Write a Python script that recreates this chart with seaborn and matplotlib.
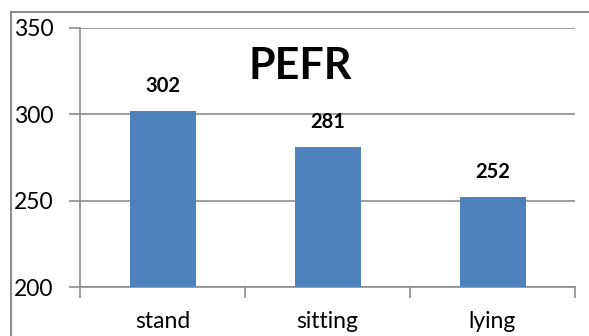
import matplotlib
matplotlib.use("Agg")
import matplotlib.pyplot as plt
import seaborn as sns
import pandas as pd
from matplotlib.patches import Rectangle

# dados
positions = ["stand", "sitting", "lying"]
pefr = [302, 281, 252]
y_ticks = [200, 250, 300, 350]

BAR_COLOR = "#4F81BD"
GRID_COLOR = "#8C8C8C"

sns.set_theme(style="white")
plt.rcParams['font.family'] = ['Lato', 'DejaVu Sans']
plt.rcParams['text.color'] = 'black'
plt.rcParams['xtick.labelcolor'] = 'black'
plt.rcParams['ytick.labelcolor'] = 'black'

df = pd.DataFrame({"position": positions, "PEFR": pefr})

fig = plt.figure(figsize=(5.89, 3.36), dpi=100)
ax = fig.add_axes([80 / 589, 1 - 287 / 336, (575 - 80) / 589, (287 - 28) / 336])

sns.barplot(data=df, x="position", y="PEFR", color=BAR_COLOR, width=0.4,
            saturation=1, linewidth=0, ax=ax, zorder=3)

ax.set_ylim(200, 350)
ax.set_xlim(-0.5, len(positions) - 0.5)
ax.set_yticks(y_ticks)
ax.set_yticklabels([str(v) for v in y_ticks], fontsize=16.5)

# ticks de categoria nas fronteiras, rótulos no centro
ax.set_xticks([i - 0.5 for i in range(len(positions) + 1)])
ax.set_xticklabels([])
ax.set_xticks(range(len(positions)), minor=True)
ax.set_xticklabels(positions, minor=True, fontsize=16.5)
ax.tick_params(axis="x", which="major", direction="out", length=8, width=1.2,
               color=GRID_COLOR, bottom=True)
ax.tick_params(axis="x", which="minor", length=0, pad=17)
ax.tick_params(axis="y", direction="out", length=8, width=1.2, color=GRID_COLOR,
               left=True, pad=11)

ax.yaxis.grid(True, color=GRID_COLOR, linewidth=1.2, zorder=0)
ax.set_axisbelow(True)
for side in ["top", "right"]:
    ax.spines[side].set_visible(False)
for side in ["left", "bottom"]:
    ax.spines[side].set_color(GRID_COLOR)
    ax.spines[side].set_linewidth(1.2)

ax.set_xlabel("")
ax.set_ylabel("")

ax.bar_label(ax.containers[0], labels=[str(v) for v in pefr], padding=11,
             fontsize=14.5, fontweight="bold", color="black")

ax.set_title("PEFR", fontsize=31, fontweight="bold", y=0.77, x=0.445,
             color="black")

# moldura do gráfico
fig.patches.append(Rectangle((11 / 589, -0.1), 1.2, 1 - 12 / 336 + 0.1,
                             transform=fig.transFigure, fill=False,
                             edgecolor=GRID_COLOR, linewidth=1.5))

fig.savefig("out.png", dpi=100)
